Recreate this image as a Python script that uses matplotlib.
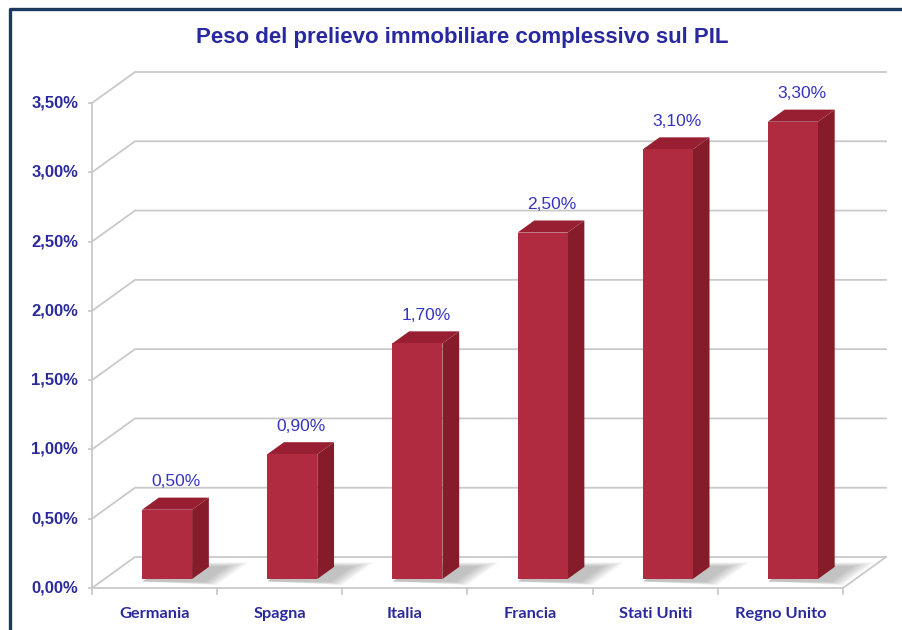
import numpy as np
import matplotlib
matplotlib.use("Agg")
from matplotlib import pyplot as plt
from matplotlib.patches import Polygon
from matplotlib.lines import Line2D

categories = ["Germania", "Spagna", "Italia", "Francia", "Stati Uniti", "Regno Unito"]
values = [0.50, 0.90, 1.70, 2.50, 3.10, 3.30]
value_labels = ["0,50%", "0,90%", "1,70%", "2,50%", "3,10%", "3,30%"]
yticks = [0.0, 0.5, 1.0, 1.5, 2.0, 2.5, 3.0, 3.5]
ytick_labels = ["0,00%", "0,50%", "1,00%", "1,50%", "2,00%", "2,50%", "3,00%", "3,50%"]
title = "Peso del prelievo immobiliare complessivo sul PIL"

W, H = 903, 630
fig = plt.figure(figsize=(W / 100, H / 100), dpi=100)
fig.patch.set_facecolor("white")

# front plane of the plot in pixels
x0p, x1p, y0p, y1p = 92, 843, 588, 103
ax = fig.add_axes([x0p / W, 1 - y0p / H, (x1p - x0p) / W, (y0p - y1p) / H])
ax.set_xlim(0, len(categories))
ax.set_ylim(0, 3.5)
ax.axis("off")

# depth offset (whole depth) in data units
DX = 43 / ((x1p - x0p) / len(categories))
DY = 31 / ((y0p - y1p) / 3.5)


def P(x, y, f):
    return (x + f * DX, y + f * DY)


grid_c = "#c9c9c9"
n = len(categories)
kw = dict(color=grid_c, lw=1.3, clip_on=False, zorder=1)

# back wall + side wall gridlines
for t in yticks:
    xa, ya = P(0, t, 1)
    xb, yb = P(n, t, 1)
    ax.add_line(Line2D([0, xa, xb], [t, ya, yb], **kw))
    ax.add_line(Line2D([-0.025, 0], [t, t], **kw))
# front vertical axis
ax.add_line(Line2D([0, 0], [0, 3.5], **kw))
# floor
fb = P(n, 0, 1)
ax.add_line(Line2D([0, n, fb[0]], [0, 0, fb[1]], **kw))
for i in range(n + 1):
    ax.add_line(Line2D([i, i], [0, -0.04], **kw))

front_c = "#b02a40"
side_c = "#861c2a"
top_c = "#971f31"
hw = 0.2
f0, f1 = 0.29, 0.68

for i, (v, lab) in enumerate(zip(values, value_labels)):
    c = i + 0.5
    xl, xr = c - hw, c + hw
    # soft shadow on floor
    for k in range(8):
        e = 0.02 + k * 0.018
        pts = [P(xl + 0.03, 0, f0 - 0.08), P(xr + 0.12 + e, 0, f0 - 0.08 - e * 0.8),
               P(xr + 0.12 + e, 0, f1 + e), P(xl + 0.03, 0, f1 + e)]
        ax.add_patch(Polygon(pts, closed=True, fc="#555555", ec="none",
                             alpha=0.05, clip_on=False, zorder=2))
    front = [P(xl, 0, f0), P(xr, 0, f0), P(xr, v, f0), P(xl, v, f0)]
    side = [P(xr, 0, f0), P(xr, 0, f1), P(xr, v, f1), P(xr, v, f0)]
    top = [P(xl, v, f0), P(xr, v, f0), P(xr, v, f1), P(xl, v, f1)]
    ax.add_patch(Polygon(side, closed=True, fc=side_c, ec="none", clip_on=False, zorder=3))
    ax.add_patch(Polygon(top, closed=True, fc=top_c, ec="none", clip_on=False, zorder=3))
    ax.add_patch(Polygon(front, closed=True, fc=front_c, ec="none", clip_on=False, zorder=4))
    lx, ly = P(c, v, f1)
    ax.annotate(lab, (P(c, v, 0.5)[0], ly), xytext=(0, 6), textcoords="offset points",
                ha="center", va="bottom", fontsize=12.5, color="#3434c0",
                family=["Liberation Sans", "DejaVu Sans"], annotation_clip=False)
    ax.text(c, -0.19, categories[i], ha="center", va="center", fontsize=11.8,
            fontweight="bold", color="#2a2a9c", family=["Lato", "DejaVu Sans"])

for t, lab in zip(yticks, ytick_labels):
    ax.text(-0.11, t, lab, ha="right", va="center", fontsize=12, fontweight="bold",
            color="#2a2a9c", family=["Liberation Sans", "DejaVu Sans"])

fig.text(462 / W, 1 - 38 / H, title, ha="center", va="center", fontsize=16,
         fontweight="bold", color="#2828a0", family=["Liberation Sans", "DejaVu Sans"])

# outer frame (cropped at right and bottom)
fig.add_artist(Line2D([10 / W, 10 / W, 1.0], [0.0, 1 - 9 / H, 1 - 9 / H],
                      transform=fig.transFigure, color="#1b3a5e", lw=2.4))

fig.savefig("out.png", dpi=100)
